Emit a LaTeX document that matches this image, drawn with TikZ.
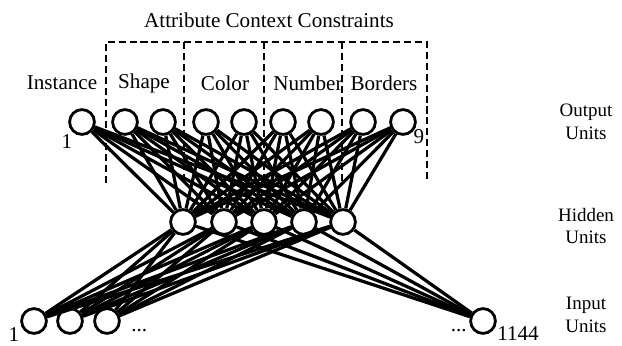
\documentclass[tikz,border=0pt]{standalone}
\usepackage{fontspec}
\setmainfont{Liberation Serif}
\usetikzlibrary{positioning}

\tikzset{
  unit/.style={circle, draw, line width=2pt, minimum size=0.62cm, inner sep=0pt, fill=white},
  link/.style={line width=2.3pt},
  group/.style={line width=1.5pt, dash pattern=on 5pt off 2.8pt},
  lbl/.style={font=\fontsize{15}{18}\selectfont, inner sep=0pt},
  side/.style={font=\fontsize{13.5}{16}\selectfont, align=center, inner sep=0pt}
}

\begin{document}
\begin{tikzpicture}[x=0.025cm, y=0.025cm]
  \useasboundingbox (0,0) rectangle (622,345);

  % dashed attribute groups
  \draw[group] (106,162) -- (106,303) -- (427,303) -- (427,162);
  \foreach \x in {184,264,342}
    \draw[group] (\x,303) -- (\x,162);

  \node[lbl] (title) at (269,325) {Attribute Context Constraints};
  \node[lbl] (inst) at (62,262) {Instance};
  \node[lbl] (shape) at (144,262) {Shape};
  \node[lbl] (color) at (225,262) {Color};
  \node[lbl] (number) at (308,262) {Number};
  \node[lbl] (borders) at (384,262) {Borders};

  % units
  \foreach \x [count=\k] in {82,125,163,206,244,283,321,363,403}
    \node[unit] (o\k) at (\x,223) {};
  \foreach \x [count=\k] in {183,224,264,304,343}
    \node[unit] (h\k) at (\x,123) {};
  \foreach \x [count=\k] in {34,70,107,483}
    \node[unit] (in\k) at (\x,24) {};

  % weights
  \foreach \a in {1,...,9}
    \foreach \b in {1,...,5}
      \draw[link] (o\a) -- (h\b);
  \foreach \a in {1,...,4}
    \foreach \b in {1,...,5}
      \draw[link] (in\a) -- (h\b);

  \node[lbl] (onum1) at (67,203) {1};
  \node[lbl] (onum9) at (419,208) {9};
  \node[lbl] (inum1) at (14,10) {1};
  \node[lbl, anchor=base west] (dotsl) at (131,14) {...};
  \node[lbl, anchor=base east] (dotsr) at (467,14) {...};
  \node[lbl, anchor=base west] (inumN) at (497,5) {1144};

  \node[side] (outlbl) at (586,223) {Output\\Units};
  \node[side] (hidlbl) at (586,119) {Hidden\\Units};
  \node[side] (inlbl) at (586,30) {Input\\Units};
\end{tikzpicture}
\end{document}
